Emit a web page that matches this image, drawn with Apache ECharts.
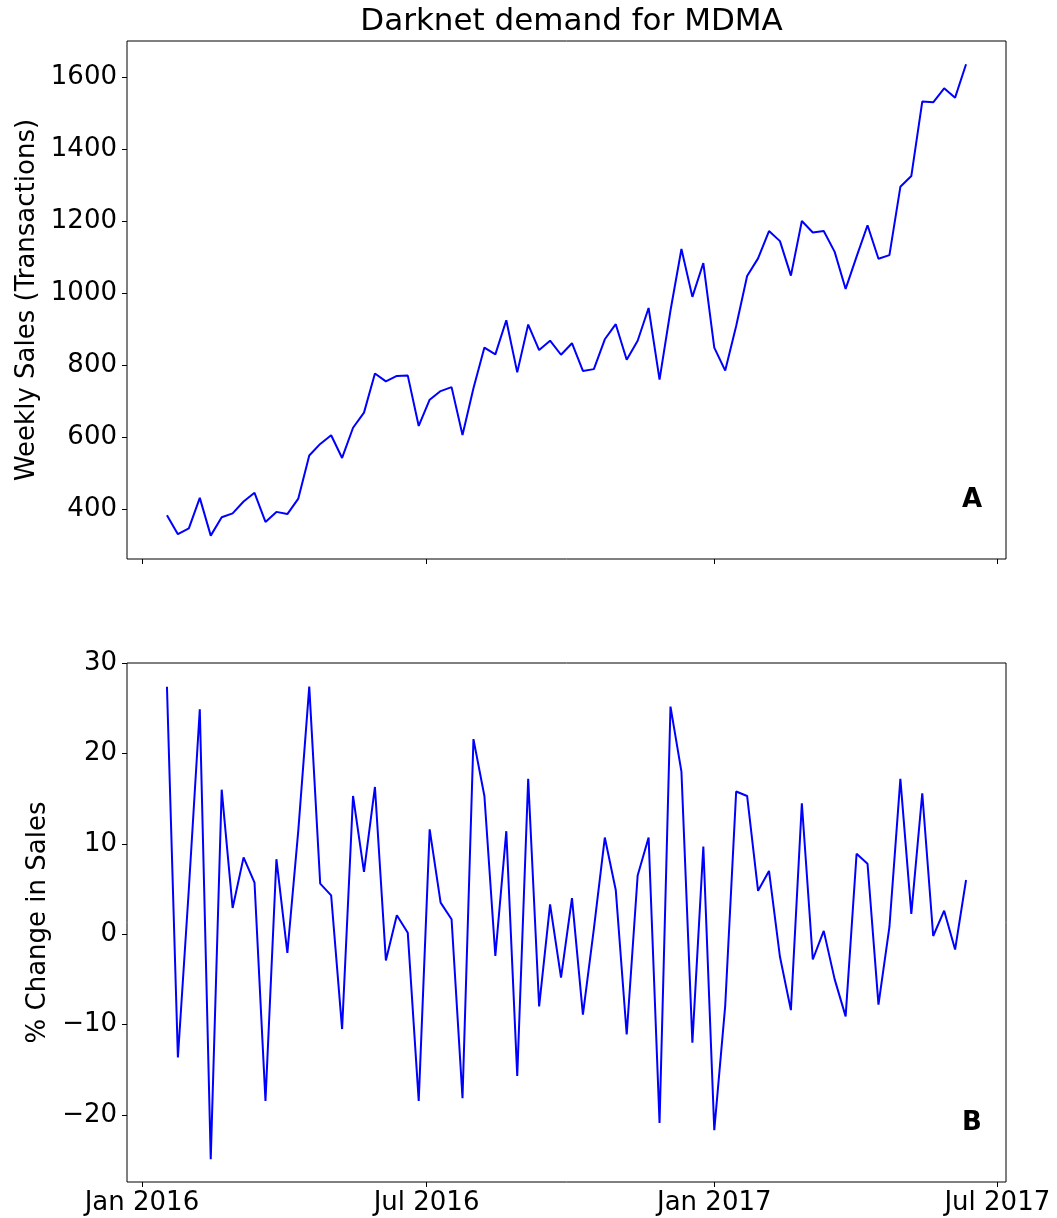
<!DOCTYPE html>
<html>
<head>
<meta charset="utf-8">
<script src="https://cdn.jsdelivr.net/npm/echarts@6/dist/echarts.min.js"></script>
<style>
html,body{margin:0;padding:0;background:#fff;}
#chart{width:1057px;height:1218px;}
</style>
</head>
<body>
<div id="chart"></div>
<script>
// ---- data ----
const weeks = [
 '2016-01-17','2016-01-24','2016-01-31','2016-02-07','2016-02-14','2016-02-21','2016-02-28',
 '2016-03-06','2016-03-13','2016-03-20','2016-03-27','2016-04-03','2016-04-10','2016-04-17','2016-04-24',
 '2016-05-01','2016-05-08','2016-05-15','2016-05-22','2016-05-29','2016-06-05','2016-06-12','2016-06-19','2016-06-26',
 '2016-07-03','2016-07-10','2016-07-17','2016-07-24','2016-07-31','2016-08-07','2016-08-14','2016-08-21','2016-08-28',
 '2016-09-04','2016-09-11','2016-09-18','2016-09-25','2016-10-02','2016-10-09','2016-10-16','2016-10-23','2016-10-30',
 '2016-11-06','2016-11-13','2016-11-20','2016-11-27','2016-12-04','2016-12-11','2016-12-18','2016-12-25',
 '2017-01-01','2017-01-08','2017-01-15','2017-01-22','2017-01-29','2017-02-05','2017-02-12','2017-02-19','2017-02-26',
 '2017-03-05','2017-03-12','2017-03-19','2017-03-26','2017-04-02','2017-04-09','2017-04-16','2017-04-23','2017-04-30',
 '2017-05-07','2017-05-14','2017-05-21','2017-05-28','2017-06-04','2017-06-11'
];
const weeklySales = [
 383,330,346,431,326,377,388,421,445,364,
 392,386,429,549,581,605,542,626,668,777,
 755,770,771,631,704,728,739,606,736,849,
 830,925,780,913,842,868,829,861,784,789,
 872,914,815,868,959,760,952,1123,990,1084,
 849,785,909,1048,1097,1173,1145,1049,1201,1169,
 1173,1115,1012,1102,1189,1096,1106,1296,1326,1533,
 1531,1570,1544,1637
];
const pctChange = [
 27.4,-13.65,5.0,24.9,-24.9,16.0,2.9,8.5,5.7,-18.45,
 8.3,-2.07,11.5,27.4,5.6,4.3,-10.5,15.3,6.9,16.3,
 -2.9,2.1,0.15,-18.45,11.6,3.5,1.66,-18.15,21.6,15.3,
 -2.4,11.4,-15.7,17.2,-8.0,3.3,-4.8,4.0,-8.9,0.6,
 10.7,4.9,-11.1,6.5,10.7,-20.9,25.2,18.0,-12.0,9.7,
 -21.7,-7.9,15.8,15.3,4.8,7.0,-2.5,-8.4,14.5,-2.8,
 0.37,-5.0,-9.1,8.9,7.8,-7.8,0.8,17.2,2.25,15.6,
 -0.2,2.6,-1.7,6.0
];
const xTickDates = ['2016-01-01','2016-07-01','2017-01-01','2017-07-01'];
const xTickLabels = ['Jan 2016','Jul 2016','Jan 2017','Jul 2017'];
const salesTicks = [400,600,800,1000,1200,1400,1600];
const pctTicks = [-20,-10,0,10,20,30];

// ---- helpers ----
function ts(s){ const p = s.split('-').map(Number); return Date.UTC(p[0], p[1]-1, p[2]); }
const firstT = ts(weeks[0]), lastT = ts(weeks[weeks.length-1]);
const padT = (lastT - firstT) * 0.05;
const xMin = firstT - padT, xMax = lastT + padT;
const xTickVals = xTickDates.map(ts);
function xLabel(v){
  let best = 0, bd = Infinity;
  xTickVals.forEach((t,i)=>{ const d = Math.abs(t - v); if (d < bd){ bd = d; best = i; } });
  return xTickLabels[best];
}
function numLabel(v){ return v < 0 ? '\u2212' + Math.abs(v) : String(v); }

const FONT = '"DejaVu Sans", sans-serif';
const salesData = weeks.map((d,i)=>[ts(d), weeklySales[i]]);
const pctData = weeks.map((d,i)=>[ts(d), pctChange[i]]);

const chart = echarts.init(document.getElementById('chart'), null, {renderer:'canvas'});

function xAxisCfg(gridIndex, showLabels){
  return {
    type: 'value', gridIndex: gridIndex, min: xMin, max: xMax, scale: true, position: 'bottom',
    axisLine: {show: false, onZero: false},
    splitLine: {show: false},
    axisTick: {show: true, customValues: xTickVals, length: 5, inside: false, lineStyle: {color: '#000', width: 1}},
    axisLabel: {show: showLabels, customValues: xTickVals, formatter: xLabel, color: '#000',
      fontFamily: FONT, fontSize: 26, margin: 8, hideOverlap: false}
  };
}
function yAxisCfg(gridIndex, min, max, ticks, name, gap){
  return {
    type: 'value', gridIndex: gridIndex, min: min, max: max, position: 'left',
    name: name, nameLocation: 'middle', nameGap: gap, nameRotate: 90,
    nameTextStyle: {fontFamily: FONT, fontSize: 26, color: '#000'},
    axisLine: {show: false, onZero: false},
    splitLine: {show: false},
    axisTick: {show: true, customValues: ticks, length: 5, inside: false, lineStyle: {color: '#000', width: 1}},
    axisLabel: {show: true, customValues: ticks, formatter: numLabel, color: '#000',
      fontFamily: FONT, fontSize: 26, margin: 10}
  };
}

const option = {
  backgroundColor: '#fff',
  animation: false,
  title: {
    text: 'Darknet demand for MDMA',
    left: 566.5, top: 1, textAlign: 'center',
    textStyle: {fontFamily: FONT, fontSize: 31, fontWeight: 'normal', color: '#000'}
  },
  grid: [
    {left: 127, width: 879, top: 41, height: 518, show: true, borderColor: '#000', borderWidth: 1, backgroundColor: 'transparent', containLabel: false},
    {left: 127, width: 879, top: 663, height: 519, show: true, borderColor: '#000', borderWidth: 1, backgroundColor: 'transparent', containLabel: false}
  ],
  xAxis: [ xAxisCfg(0, false), xAxisCfg(1, true) ],
  yAxis: [
    yAxisCfg(0, 261, 1701.5, salesTicks, 'Weekly Sales (Transactions)', 87),
    yAxisCfg(1, -27.43, 30.02, pctTicks, '% Change in Sales', 76)
  ],
  series: [
    {type: 'line', xAxisIndex: 0, yAxisIndex: 0, data: salesData, showSymbol: false, symbol: 'none',
     lineStyle: {color: '#0000ff', width: 2}, itemStyle: {color: '#0000ff'}},
    {type: 'line', xAxisIndex: 1, yAxisIndex: 1, data: pctData, showSymbol: false, symbol: 'none',
     lineStyle: {color: '#0000ff', width: 2}, itemStyle: {color: '#0000ff'}}
  ],
  graphic: [
    {type: 'text', left: 962, top: 487, style: {text: 'A', fill: '#000', font: 'bold 26px "DejaVu Sans"'}},
    {type: 'text', left: 962, top: 1110, style: {text: 'B', fill: '#000', font: 'bold 26px "DejaVu Sans"'}}
  ]
};
chart.setOption(option);
</script>
</body>
</html>
